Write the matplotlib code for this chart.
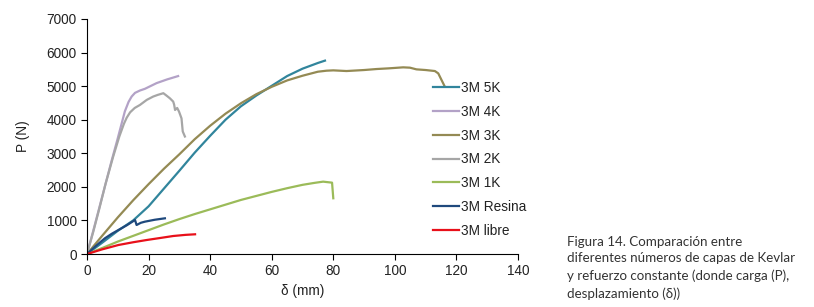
import matplotlib
matplotlib.use("Agg")
import matplotlib.pyplot as plt

# ---- data ----
x_5k = [0, 5, 10, 15, 20, 25, 30, 35, 40, 45, 50, 55, 60, 65, 70, 75, 77.3]
y_5k = [0, 340, 690, 1000, 1420, 1950, 2480, 3020, 3520, 4000, 4400, 4720, 5010,
        5300, 5520, 5690, 5760]

x_4k = [0, 2, 4, 6, 8, 10, 12.3, 13.5, 14.5, 15.6, 17.2, 18.8, 22.6, 26, 29.6]
y_4k = [0, 680, 1380, 2080, 2780, 3450, 4250, 4530, 4690, 4800, 4870, 4920, 5090, 5200, 5300]

x_3k = [0, 5, 10, 15, 20, 25, 30, 35, 40, 45, 50, 55, 60, 65, 70, 75, 77.8, 80, 84.3,
        90, 94.1, 98, 102.7, 104.9, 107.0, 110, 113.0, 114.1, 116.2]
y_3k = [0, 550, 1090, 1600, 2080, 2540, 2970, 3420, 3820, 4180, 4490, 4760, 4980,
        5170, 5310, 5430, 5460, 5470, 5450, 5480, 5510, 5530, 5560, 5550, 5500, 5480,
        5450, 5380, 4990]

x_2k = [0, 2, 4, 6, 8.5, 10.5, 12.0, 12.9, 14, 15.5, 17.2, 19.4, 21.5, 23, 24.8, 25.8,
        26.9, 28.0, 28.3, 28.6, 29.3, 29.9, 30.7, 31.1, 31.8]
y_2k = [0, 650, 1350, 2080, 2900, 3500, 3880, 4060, 4220, 4350, 4440, 4590, 4690, 4740,
        4790, 4720, 4640, 4540, 4450, 4290, 4350, 4240, 4040, 3650, 3500]

x_1k = [0, 5, 10, 15, 20, 25, 30, 35, 40, 45, 50, 55, 60, 65, 70, 74, 76.7, 79.6, 80.0]
y_1k = [0, 180, 370, 540, 710, 880, 1040, 1190, 1330, 1470, 1610, 1730, 1850, 1960,
        2060, 2120, 2155, 2125, 1660]

x_res = [0, 3, 5.8, 8, 10.2, 13, 15.6, 16.1, 17.5, 18.8, 22, 25.3]
y_res = [0, 250, 467, 600, 715, 860, 1013, 864, 930, 963, 1020, 1063]

x_lib = [0, 5, 10.2, 15, 19.4, 24, 28.0, 32, 35.1]
y_lib = [0, 140, 268, 350, 417, 480, 536, 570, 587]

labels = ["3M 5K", "3M 4K", "3M 3K", "3M 2K", "3M 1K", "3M Resina", "3M libre"]
colors = ["#31859C", "#B3A2C7", "#948A54", "#A6A6A6", "#9BBB59", "#1F497D", "#E8101A"]

x_ticks = [0, 20, 40, 60, 80, 100, 120, 140]
y_ticks = [0, 1000, 2000, 3000, 4000, 5000, 6000, 7000]

caption = ("Figura 14. Comparación entre\n"
           "diferentes números de capas de Kevlar\n"
           "y refuerzo constante (donde carga (P),\n"
           "desplazamiento (δ))")

# ---- figure ----
plt.rcParams['font.family'] = ['Liberation Sans', 'DejaVu Sans']
fig = plt.figure(figsize=(8.14, 3.07), dpi=100)
ax = fig.add_axes([87/814, 1 - 254/307, (518 - 87)/814, (254 - 19)/307])

series = [(x_5k, y_5k), (x_4k, y_4k), (x_3k, y_3k), (x_2k, y_2k),
          (x_1k, y_1k), (x_res, y_res), (x_lib, y_lib)]
for (xs, ys), lab, col in zip(series, labels, colors):
    ax.plot(xs, ys, color=col, lw=1.6, label=lab, solid_joinstyle='round')

ax.set_xlim(0, 140)
ax.set_ylim(0, 7000)
ax.set_xticks(x_ticks)
ax.set_yticks(y_ticks)
ax.tick_params(direction='out', length=4, width=0.8, labelsize=9.8, colors='#000000',
               labelcolor='#222222')
ax.spines['top'].set_visible(False)
ax.spines['right'].set_visible(False)
for s in ['left', 'bottom']:
    ax.spines[s].set_linewidth(0.8)
ax.set_xlabel("δ (mm)", fontsize=9.8, color='#222222', labelpad=4)
ax.set_ylabel("P (N)", fontsize=9.8, color='#222222', labelpad=12)

leg = fig.legend(loc='upper left', bbox_to_anchor=(433/814, 1 - 81/307),
                 frameon=False, fontsize=9.8, handlelength=1.9, handletextpad=0.15,
                 labelspacing=0.72, borderpad=0, borderaxespad=0)
for t in leg.get_texts():
    t.set_color('#222222')

fig.text(567/814, 1 - 235.5/307, caption, fontsize=9.6, family=['Lato', 'DejaVu Sans'],
         color='#333333', va='top', ha='left', linespacing=1.5)

fig.savefig("out.png", dpi=100)
